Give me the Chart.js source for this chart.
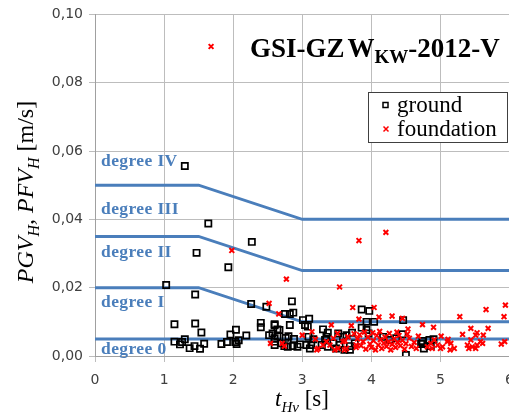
<!DOCTYPE html>
<html><head><meta charset="utf-8">
<script src="https://cdn.jsdelivr.net/npm/chart.js@4.4.0/dist/chart.umd.min.js"></script>
<style>
html,body{margin:0;padding:0;overflow:hidden;background:#fff;width:509px;height:415px}
#wrap{position:absolute;left:0;top:0;width:524px;height:415px}
</style>
</head><body><div id="wrap"><canvas id="c" width="524" height="415"></canvas></div>
<script>
// ---- data ----
const xTicks = [0, 1, 2, 3, 4, 5, 6];
const yTicks = [0.00, 0.02, 0.04, 0.06, 0.08, 0.10];

const groundX = [1.30,1.64,2.27,1.47,1.93,1.03,1.45,2.26,2.48,2.75,2.85,2.82,2.87,2.82,2.60,3.01,3.10,3.04,3.08,2.64,2.57,2.64,
  1.15,1.45,1.54,1.15,1.23,1.26,1.30,1.37,1.44,1.52,1.58,1.83,1.91,1.96,2.04,2.03,2.08,2.05,2.19,2.40,2.40,2.52,2.60,2.60,2.60,2.60,
  2.70,2.74,2.79,2.86,2.93,2.97,3.06,3.11,3.13,3.28,3.33,3.37,3.45,3.49,3.54,3.61,3.30,3.37,3.35,3.52,3.59,3.09,3.16,2.80,2.88,2.76,2.67,
  3.86,3.97,3.93,4.04,4.46,3.86,3.93,3.96,3.72,3.64,4.45,4.50,3.69,3.76,3.69,4.17,4.26,4.36,4.74,
  4.74,4.72,4.76,4.84,4.90,4.86];
const groundY = [0.0556,0.0388,0.0334,0.0302,0.0260,0.0208,0.0180,0.0152,0.0144,0.0123,0.0160,0.0123,0.0127,0.0091,0.0093,0.0105,0.0109,0.0091,0.0086,0.0078,0.0066,0.0058,
  0.0093,0.0095,0.0069,0.0042,0.0034,0.0041,0.0049,0.0023,0.0029,0.0021,0.0036,0.0035,0.0041,0.0063,0.0077,0.0041,0.0046,0.0035,0.0060,0.0097,0.0084,0.0061,0.0090,0.0052,0.0042,0.0032,
  0.0037,0.0029,0.0027,0.0029,0.0027,0.0034,0.0032,0.0022,0.0032,0.0032,0.0047,0.0027,0.0037,0.0022,0.0032,0.0018,0.0078,0.0068,0.0056,0.0066,0.0056,0.0056,0.0049,0.0058,0.0050,0.0053,0.0076,
  0.0136,0.0132,0.0100,0.0100,0.0105,0.0083,0.0076,0.0066,0.0068,0.0061,0.0064,0.0003,0.0029,0.0037,0.0018,0.0056,0.0047,0.0052,0.0037,
  0.0044,0.0035,0.0022,0.0047,0.0049,0.0029];

const foundationX = [1.68,1.98,3.82,4.21,2.77,3.54,2.52,2.66,3.73,4.04,4.30,4.45,3.82,4.11,3.71,4.53,4.74,4.90,5.28,5.66,5.69,5.92,5.94,
  3.14,3.42,3.51,3.00,2.71,2.74,3.19,3.23,3.21,3.35,3.40,3.45,3.52,3.59,3.64,3.66,2.54,3.30,3.47,3.61,
  3.80,3.85,3.88,3.92,3.95,3.98,4.00,4.03,4.06,4.08,4.10,4.13,4.15,4.18,4.20,4.22,4.25,4.28,4.30,4.33,4.35,4.38,4.40,4.42,4.45,4.48,4.50,4.55,4.58,4.62,4.65,4.68,
  3.75,3.78,3.83,3.90,4.02,4.12,4.26,4.37,4.52,
  5.01,5.11,5.10,5.15,5.14,5.20,5.32,5.53,5.51,5.62,5.44,5.39,5.46,5.41,5.51,5.53,5.58,5.61,5.88,5.93,4.91,4.96,5.03,5.00,4.86,4.88,4.81,5.44,
  3.62,3.78];
const foundationY = [0.0906,0.0309,0.0338,0.0362,0.0225,0.0202,0.0154,0.0123,0.0142,0.0142,0.0117,0.0110,0.0108,0.0114,0.0089,0.0079,0.0092,0.0084,0.0115,0.0136,0.0081,0.0115,0.0149,
  0.0071,0.0091,0.0066,0.0061,0.0037,0.0029,0.0049,0.0022,0.0018,0.0042,0.0032,0.0052,0.0022,0.0042,0.0022,0.0056,0.0037,0.0032,0.0018,0.0018,
  0.0050,0.0030,0.0042,0.0020,0.0055,0.0035,0.0025,0.0045,0.0018,0.0060,0.0032,0.0048,0.0022,0.0038,0.0055,0.0028,0.0042,0.0018,0.0034,0.0050,0.0025,0.0040,0.0060,0.0030,0.0046,0.0020,0.0036,0.0052,0.0028,0.0040,0.0022,0.0058,
  0.0065,0.0025,0.0062,0.0070,0.0068,0.0072,0.0066,0.0070,0.0064,
  0.0058,0.0049,0.0042,0.0037,0.0018,0.0022,0.0063,0.0068,0.0061,0.0061,0.0047,0.0032,0.0027,0.0022,0.0022,0.0032,0.0042,0.0037,0.0035,0.0042,0.0047,0.0032,0.0027,0.0022,0.0037,0.0022,0.0027,0.0081,
  0.0044,0.0032];

// degree boundary lines (t_Hv breakpoints and velocity limits)
const degreeX    = [0, 1.5, 3, 6];
const degree0Y   = [0.005, 0.005, 0.005, 0.005];
const degreeIY   = [0.020, 0.020, 0.010, 0.010];
const degreeIIY  = [0.035, 0.035, 0.025, 0.025];
const degreeIIIY = [0.050, 0.050, 0.040, 0.040];
const degreeNames  = ['degree IV', 'degree III', 'degree II', 'degree I', 'degree 0'];
const degreeNameY  = [0.0570, 0.0430, 0.0303, 0.0157, 0.0020];

// ---- build ----
const zip = (xs, ys) => xs.map((x, i) => ({x, y: ys[i]}));
const BLUE = '#4a7ebb';
const lineDs = ys => ({data: zip(degreeX, ys), showLine: true, borderColor: BLUE, borderWidth: 3,
  pointRadius: 0, fill: false, tension: 0});

function richText(ctx, x, y, parts) {
  let cx = x;
  for (const p of parts) {
    ctx.font = p.font;
    ctx.fillText(p.t, cx, y + (p.dy || 0));
    cx += ctx.measureText(p.t).width + (p.gap || 0);
  }
  return cx - x;
}
function richWidth(ctx, parts) {
  let w = 0;
  for (const p of parts) { ctx.font = p.font; w += ctx.measureText(p.t).width + (p.gap || 0); }
  return w;
}

const textPlugin = {
  id: 'texts',
  afterDatasetsDraw(chart) {
    const ctx = chart.ctx, ys = chart.scales.y, a = chart.chartArea;
    ctx.save();
    ctx.fillStyle = BLUE;
    ctx.font = 'bold 17.5px "Liberation Serif"';
    ctx.textBaseline = 'middle';
    ctx.textAlign = 'left';
    if ('letterSpacing' in ctx) ctx.letterSpacing = '0.4px';
    degreeNames.forEach((n, i) => ctx.fillText(n, a.left + 6, ys.getPixelForValue(degreeNameY[i])));
    ctx.restore();
  },
  afterDraw(chart) {
    const ctx = chart.ctx;
    ctx.save();
    ctx.fillStyle = '#000';
    ctx.textBaseline = 'alphabetic';
    ctx.textAlign = 'left';
    const SF = '"Liberation Serif"';
    // title
    richText(ctx, 250, 57, [
      {t: 'GSI-GZ', font: 'bold 27px ' + SF, gap: 3},
      {t: 'W', font: 'bold 27px ' + SF},
      {t: 'KW', font: 'bold 19px ' + SF, dy: 6},
      {t: '-2012-V', font: 'bold 27px ' + SF}
    ]);
    // legend
    ctx.fillStyle = '#fff';
    ctx.fillRect(368.5, 92.5, 139, 50);
    ctx.strokeStyle = '#404040';
    ctx.lineWidth = 1;
    ctx.strokeRect(368.5, 92.5, 139, 50);
    ctx.fillStyle = '#000';
    ctx.font = '23px ' + SF;
    ctx.fillText('ground', 397, 112);
    ctx.fillText('foundation', 397, 136);
    ctx.strokeStyle = '#000'; ctx.lineWidth = 1.5;
    ctx.strokeRect(383, 102.5, 5, 5);
    ctx.strokeStyle = '#ff0000'; ctx.lineWidth = 1.5;
    ctx.beginPath();
    ctx.moveTo(383.5, 126.5); ctx.lineTo(388.5, 131.5);
    ctx.moveTo(388.5, 126.5); ctx.lineTo(383.5, 131.5);
    ctx.stroke();
    // x title
    ctx.fillStyle = '#000';
    const xp = [
      {t: 't', font: 'italic 23px ' + SF},
      {t: 'Hv', font: 'italic 15px ' + SF, dy: 6},
      {t: ' [s]', font: '23px ' + SF}
    ];
    const xw = richWidth(ctx, xp);
    richText(ctx, 302 - xw / 2, 406, xp);
    // y title
    const yp = [
      {t: 'PGV', font: 'italic 24px ' + SF},
      {t: 'H', font: 'italic 16px ' + SF, dy: 6},
      {t: ', ', font: 'italic 24px ' + SF},
      {t: 'PFV', font: 'italic 24px ' + SF},
      {t: 'H', font: 'italic 16px ' + SF, dy: 6},
      {t: ' [m/s]', font: '24px ' + SF}
    ];
    const yw = richWidth(ctx, yp);
    ctx.translate(33, 192);
    ctx.rotate(-Math.PI / 2);
    richText(ctx, -yw / 2, 0, yp);
    ctx.restore();
  }
};

new Chart(document.getElementById('c'), {
  type: 'scatter',
  data: {
    datasets: [
      {label: 'foundation', data: zip(foundationX, foundationY), pointStyle: 'crossRot', pointRadius: 3.4,
        borderColor: '#ff0000', backgroundColor: '#ff0000', borderWidth: 2},
      {label: 'ground', data: zip(groundX, groundY), pointStyle: 'rect', pointRadius: 4.4,
        borderColor: '#000000', backgroundColor: 'rgba(0,0,0,0)', borderWidth: 1.7},
      lineDs(degree0Y), lineDs(degreeIY), lineDs(degreeIIY), lineDs(degreeIIIY)
    ]
  },
  options: {
    responsive: false,
    animation: false,
    devicePixelRatio: 1,
    layout: {padding: {top: 13, right: 0, left: 0, bottom: 0}},
    plugins: {legend: {display: false}, tooltip: {enabled: false}},
    scales: {
      x: {
        type: 'linear', min: xTicks[0], max: xTicks[xTicks.length - 1],
        afterBuildTicks: s => { s.ticks = xTicks.map(v => ({value: v})); },
        afterFit: s => { s.height = 59; },
        ticks: {color: '#404040', font: {family: 'DejaVu Sans', size: 14}, padding: 10, maxRotation: 0,
          callback: v => String(v)},
        grid: {color: '#bdbdbd', lineWidth: 1, tickLength: 6},
        border: {color: '#a0a0a0', width: 1}
      },
      y: {
        type: 'linear', min: yTicks[0], max: yTicks[yTicks.length - 1],
        afterBuildTicks: s => { s.ticks = yTicks.map(v => ({value: v})); },
        afterFit: s => { s.width = 95; },
        ticks: {color: '#404040', font: {family: 'DejaVu Sans', size: 14}, padding: 6,
          callback: v => v.toFixed(2).replace('.', ',')},
        grid: {color: '#bdbdbd', lineWidth: 1, tickLength: 6},
        border: {color: '#a0a0a0', width: 1}
      }
    }
  },
  plugins: [textPlugin]
});
</script></body></html>
